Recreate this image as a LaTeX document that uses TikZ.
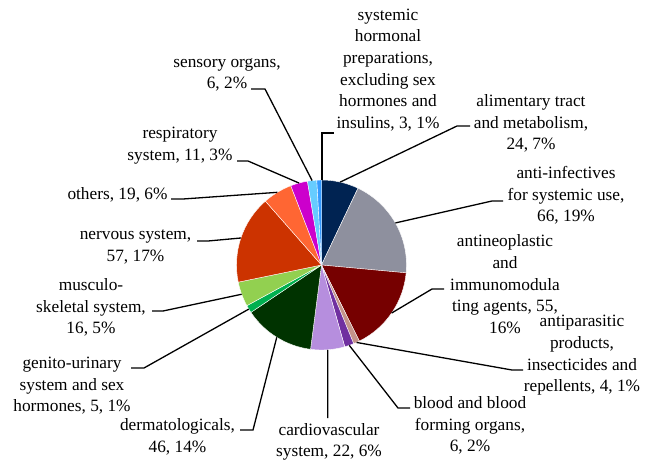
\documentclass[tikz,border=0pt]{standalone}
\usepackage{fontspec}
\setmainfont{Liberation Serif}
\definecolor{cAli}{RGB}{0,35,82}
\definecolor{cInf}{RGB}{142,144,158}
\definecolor{cNeo}{RGB}{118,0,0}
\definecolor{cPar}{RGB}{196,148,138}
\definecolor{cBlo}{RGB}{112,48,160}
\definecolor{cCar}{RGB}{182,142,222}
\definecolor{cDer}{RGB}{0,51,0}
\definecolor{cGen}{RGB}{0,176,80}
\definecolor{cMus}{RGB}{146,208,80}
\definecolor{cNer}{RGB}{204,51,0}
\definecolor{cOth}{RGB}{255,102,51}
\definecolor{cRes}{RGB}{204,0,204}
\definecolor{cSen}{RGB}{102,204,255}
\definecolor{cSys}{RGB}{51,153,255}
\begin{document}
\begin{tikzpicture}[x=1pt,y=-1pt,
  lbl/.style={align=center, inner sep=0pt, font=\fontsize{17.3}{21.6}\selectfont},
  leader/.style={draw=black, line width=1.3pt},
  slice/.style={draw=white, line width=0.4pt}]
\useasboundingbox (0,0) rectangle (656,463);
\begin{scope}[shift={(321.5,265)}, y=1pt]
  \fill[cAli, slice] (0,0) -- (90:85) arc[start angle=90, end angle=64.588, radius=85] -- cycle;
  \fill[cInf, slice] (0,0) -- (64.588:85) arc[start angle=64.588, end angle=-5.294, radius=85] -- cycle;
  \fill[cNeo, slice] (0,0) -- (-5.294:85) arc[start angle=-5.294, end angle=-63.529, radius=85] -- cycle;
  \fill[cPar, slice] (0,0) -- (-63.529:85) arc[start angle=-63.529, end angle=-67.765, radius=85] -- cycle;
  \fill[cBlo, slice] (0,0) -- (-67.765:85) arc[start angle=-67.765, end angle=-74.118, radius=85] -- cycle;
  \fill[cCar, slice] (0,0) -- (-74.118:85) arc[start angle=-74.118, end angle=-97.412, radius=85] -- cycle;
  \fill[cDer, slice] (0,0) -- (-97.412:85) arc[start angle=-97.412, end angle=-146.118, radius=85] -- cycle;
  \fill[cGen, slice] (0,0) -- (-146.118:85) arc[start angle=-146.118, end angle=-151.412, radius=85] -- cycle;
  \fill[cMus, slice] (0,0) -- (-151.412:85) arc[start angle=-151.412, end angle=-168.353, radius=85] -- cycle;
  \fill[cNer, slice] (0,0) -- (-168.353:85) arc[start angle=-168.353, end angle=-228.706, radius=85] -- cycle;
  \fill[cOth, slice] (0,0) -- (-228.706:85) arc[start angle=-228.706, end angle=-248.824, radius=85] -- cycle;
  \fill[cRes, slice] (0,0) -- (-248.824:85) arc[start angle=-248.824, end angle=-260.471, radius=85] -- cycle;
  \fill[cSen, slice] (0,0) -- (-260.471:85) arc[start angle=-260.471, end angle=-266.824, radius=85] -- cycle;
  \fill[cSys, slice] (0,0) -- (-266.824:85) arc[start angle=-266.824, end angle=-270, radius=85] -- cycle;
  \coordinate (eAli) at (77.29:85);
  \coordinate (eInf) at (29.65:85);
  \coordinate (eNeo) at (-34.41:85);
  \coordinate (ePar) at (-65.65:85);
  \coordinate (eBlo) at (-70.94:85);
  \coordinate (eCar) at (-85.76:85);
  \coordinate (eDer) at (-121.76:85);
  \coordinate (eGen) at (-148.76:85);
  \coordinate (eMus) at (-159.88:85);
  \coordinate (eNer) at (-198.53:85);
  \coordinate (eOth) at (-238.77:85);
  \coordinate (eRes) at (-254.65:85);
  \coordinate (eSen) at (-263.65:85);
  \coordinate (eSys) at (-269.4:85);
\end{scope}

% labels
\node[lbl] (tSys) at (388,70) {systemic\\hormonal\\preparations,\\excluding sex\\hormones and\\insulins, 3, 1\%};
\node[lbl] (tSen) at (227,75) {sensory organs,\\6, 2\%};
\node[lbl] (tRes) at (180,145.5) {respiratory\\system, 11, 3\%};
\node[lbl] (tOth) at (117.5,195) {others, 19, 6\%};
\node[lbl] (tNer) at (135.5,246.8) {nervous system,\\57, 17\%};
\node[lbl] (tMus) at (91,307.6) {musculo-\\skeletal system,\\16, 5\%};
\node[lbl] (tGen) at (72,385.6) {genito-urinary\\system and sex\\hormones, 5, 1\%};
\node[lbl] (tDer) at (177.5,436.8) {dermatologicals,\\46, 14\%};
\node[lbl] (tCar) at (329,441.8) {cardiovascular\\system, 22, 6\%};
\node[lbl] (tBlo) at (470,425.6) {blood and blood\\forming organs,\\6, 2\%};
\node[lbl] (tPar) at (582,355.4) {antiparasitic\\products,\\insecticides and\\repellents, 4, 1\%};
\node[lbl] (tNeo) at (505,284.2) {antineoplastic\\and\\immunomodula\\ting agents, 55,\\16\%};
\node[lbl] (tInf) at (566,195.6) {anti-infectives\\for systemic use,\\66, 19\%};
\node[lbl] (tAli) at (531,123.6) {alimentary tract\\and metabolism,\\24, 7\%};

% leader elbows and ends
\coordinate (kSys) at (322,133);  \coordinate (fSys) at (334,133);
\coordinate (kSen) at (265,89);   \coordinate (fSen) at (251,89);
\coordinate (kRes) at (248,161);  \coordinate (fRes) at (237,161);
\coordinate (kOth) at (183,199);  \coordinate (fOth) at (171,199);
\coordinate (kNer) at (208,241);  \coordinate (fNer) at (197,241);
\coordinate (kMus) at (163,311);  \coordinate (fMus) at (152,311);
\coordinate (kGen) at (144,368);  \coordinate (fGen) at (131,368);
\coordinate (kDer) at (253,430);  \coordinate (fDer) at (240,430);
\coordinate (kCar) at (327.8,418);
\coordinate (kBlo) at (398,408);  \coordinate (fBlo) at (410,408);
\coordinate (kPar) at (512,370);  \coordinate (fPar) at (523,370);
\coordinate (kNeo) at (432,289);  \coordinate (fNeo) at (444,289);
\coordinate (kInf) at (492,201);  \coordinate (fInf) at (503,201);
\coordinate (kAli) at (457,126);  \coordinate (fAli) at (470,126);

\draw[leader] (kSys |- eSys) -- (kSys) -- (fSys);
\draw[leader] (eSen) -- (kSen) -- (fSen);
\draw[leader] (eRes) -- (kRes) -- (fRes);
\draw[leader] (eOth) -- (kOth) -- (fOth);
\draw[leader] (eNer) -- (kNer) -- (fNer);
\draw[leader] (eMus) -- (kMus) -- (fMus);
\draw[leader] (eGen) -- (kGen) -- (fGen);
\draw[leader] (eDer) -- (kDer) -- (fDer);
\draw[leader] (eCar) -- (kCar);
\draw[leader] (eBlo) -- (kBlo) -- (fBlo);
\draw[leader] (ePar) -- (kPar) -- (fPar);
\draw[leader] (eNeo) -- (kNeo) -- (fNeo);
\draw[leader] (eInf) -- (kInf) -- (fInf);
\draw[leader] (eAli) -- (kAli) -- (fAli);
\end{tikzpicture}
\end{document}
